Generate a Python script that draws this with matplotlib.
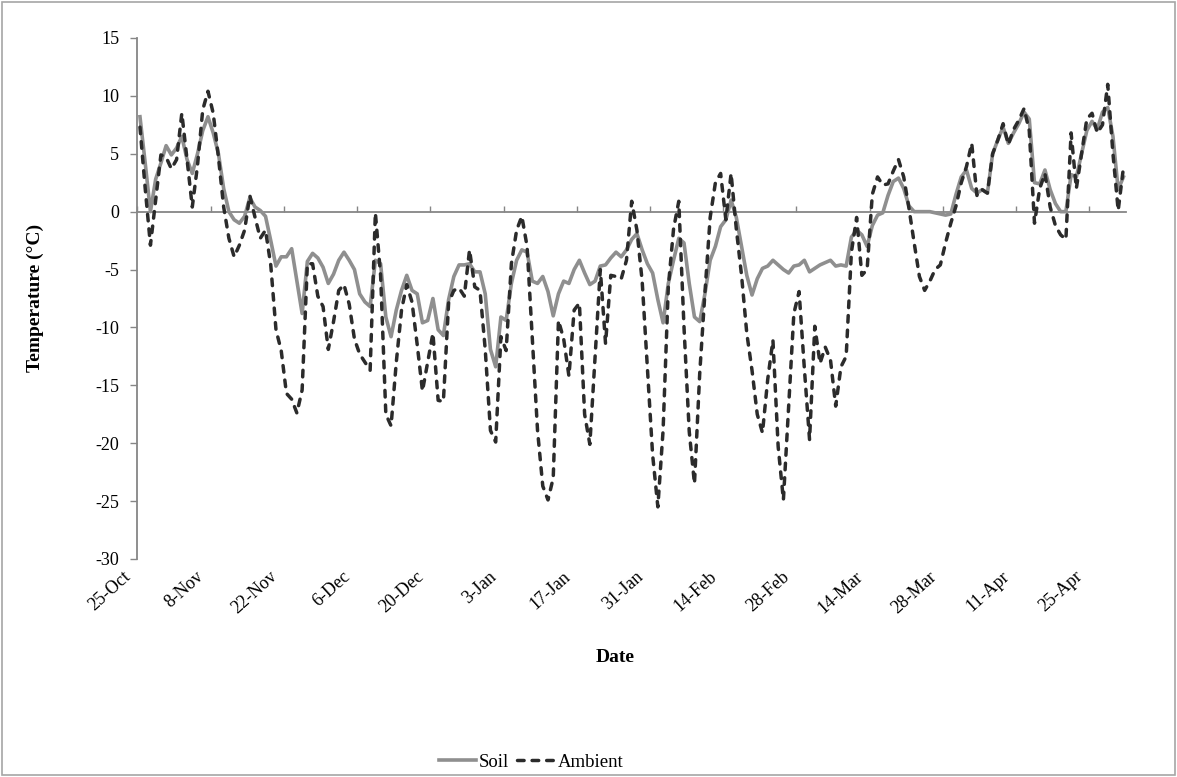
import numpy as np
import matplotlib
matplotlib.use("Agg")
import matplotlib.pyplot as plt
import matplotlib.transforms as mtransforms
from matplotlib.patches import Rectangle

plt.rcParams["font.family"] = ["Liberation Serif", "DejaVu Serif"]

# daily means, 25-Oct .. 1-May (189 days)
soil = [
    8.2, 4.2, 0.0, 2.8, 4.2, 5.7, 4.9, 5.5, 6.5, 4.5,
    3.3, 5.0, 7.0, 8.2, 6.8, 5.0, 2.0, 0.0, -0.7, -1.0,
    -0.4, 1.2, 0.4, 0.1, -0.4, -2.5, -4.7, -3.9, -3.9, -3.2,
    -6.0, -8.8, -4.3, -3.6, -4.0, -4.8, -6.2, -5.4, -4.2, -3.5,
    -4.2, -5.0, -7.1, -7.8, -8.2, -4.2, -4.5, -9.1, -10.8, -8.5,
    -6.8, -5.5, -6.8, -7.1, -9.6, -9.4, -7.5, -10.2, -10.7, -7.6,
    -5.6, -4.6, -4.6, -4.5, -5.2, -5.2, -7.1, -11.9, -13.4, -9.1,
    -9.4, -6.2, -4.2, -3.3, -3.5, -6.0, -6.2, -5.6, -6.9, -9.0,
    -7.1, -6.0, -6.2, -5.0, -4.2, -5.3, -6.3, -6.0, -4.7, -4.6,
    -4.0, -3.5, -3.9, -3.3, -2.4, -1.9, -3.3, -4.5, -5.3, -7.6,
    -9.6, -6.2, -4.2, -2.3, -2.7, -6.2, -9.1, -9.5, -7.1, -4.2,
    -3.0, -1.3, -0.7, 1.0, -0.5, -3.0, -5.5, -7.2, -5.8, -4.9,
    -4.7, -4.2, -4.6, -5.0, -5.3, -4.7, -4.6, -4.2, -5.2, -4.9,
    -4.6, -4.4, -4.2, -4.7, -4.6, -4.7, -2.2, -1.6, -2.0, -3.0,
    -1.2, -0.3, -0.1, 1.4, 2.6, 2.9, 2.0, 0.5, 0.0, 0.0,
    0.0, 0.0, -0.1, -0.2, -0.3, -0.2, 1.5, 3.0, 3.6, 2.0,
    1.6, 1.9, 1.6, 5.0, 6.2, 7.3, 5.9, 6.8, 7.6, 8.6,
    8.0, 2.5, 2.4, 3.6, 1.9, 0.7, 0.0, 0.0, 3.2, 3.0,
    5.0, 7.0, 7.8, 7.1, 8.6, 9.0, 6.5, 1.9, 3.0,
]

ambient = [
    7.3, 2.0, -2.9, 1.0, 4.9, 4.7, 3.7, 4.5, 8.5, 4.5,
    0.4, 4.0, 8.8, 10.4, 8.5, 4.7, 0.4, -2.3, -3.9, -2.9,
    -1.6, 1.4, -0.5, -2.3, -1.6, -4.6, -10.2, -12.0, -15.7, -16.2,
    -17.4, -15.4, -4.5, -4.5, -7.3, -8.2, -11.9, -9.5, -6.8, -6.3,
    -8.0, -11.0, -12.3, -13.0, -13.7, -0.1, -5.5, -17.5, -18.5, -13.0,
    -8.5, -6.3, -7.8, -11.5, -15.5, -13.0, -10.5, -16.3, -16.4, -7.9,
    -6.8, -6.6, -7.3, -3.3, -6.5, -6.8, -11.9, -18.9, -19.9, -10.8,
    -12.0, -4.5, -1.6, -0.4, -3.0, -11.0, -18.9, -23.7, -24.9, -23.0,
    -9.4, -11.0, -14.2, -8.5, -7.9, -17.5, -20.1, -12.5, -5.0, -11.4,
    -5.5, -5.6, -5.8, -4.2, 0.9, -1.6, -6.0, -13.5, -21.0, -25.5,
    -18.9, -6.5, -1.5, 0.9, -10.0, -19.0, -23.5, -14.0, -7.0, -0.5,
    2.5, 3.3, -0.7, 3.3, -1.5, -5.5, -10.5, -13.7, -17.5, -19.1,
    -14.5, -11.1, -20.3, -24.9, -16.8, -8.8, -6.9, -13.5, -19.7, -9.9,
    -13.1, -11.7, -12.8, -16.8, -13.4, -12.5, -3.5, -0.5, -5.5, -5.0,
    1.5, 3.0, 2.3, 2.4, 3.5, 4.5, 3.0, 0.3, -2.7, -5.6,
    -6.8, -6.0, -5.0, -4.6, -2.7, -1.0, 0.5, 2.5, 3.9, 5.9,
    1.4, 1.9, 1.6, 5.0, 6.2, 7.6, 5.8, 7.1, 7.9, 8.9,
    7.0, -1.0, 2.0, 3.3, 0.4, -1.2, -2.0, -2.4, 6.8, 2.0,
    5.0, 8.0, 8.5, 6.8, 7.5, 11.0, 5.0, 0.1, 3.8,
]

date_labels = ["25-Oct", "8-Nov", "22-Nov", "6-Dec", "20-Dec", "3-Jan", "17-Jan",
               "31-Jan", "14-Feb", "28-Feb", "14-Mar", "28-Mar", "11-Apr", "25-Apr"]
y_ticks = [-30, -25, -20, -15, -10, -5, 0, 5, 10, 15]

n_days = len(soil)
days = np.arange(n_days) + 0.5          # points sit in the middle of each day
tick_pos = np.arange(len(date_labels)) * 14

AXIS_GREY = "#868686"

fig = plt.figure(figsize=(11.77, 7.77), dpi=100)
ax = fig.add_axes([0.1167, 0.2806, 0.8400, 0.6705])

ax.plot(days, soil, color="#8f8f8f", lw=2.6, label="Soil", zorder=3)
ax.plot(days, ambient, color="#2b2b2b", lw=2.5, linestyle=(0, (1.9, 2.3)),
        dash_capstyle="round", label="Ambient", zorder=4)

ax.set_xlim(0, n_days)
ax.set_ylim(-30, 15)
ax.set_yticks(y_ticks)
ax.set_yticklabels([str(v) for v in y_ticks], fontsize=13)
ax.tick_params(axis="y", direction="out", length=5, width=1, color=AXIS_GREY, pad=8)

# horizontal axis crossing at zero, ticks on it, labels down at the bottom
for side in ["top", "right"]:
    ax.spines[side].set_visible(False)
ax.spines["left"].set_color(AXIS_GREY)
ax.spines["left"].set_linewidth(1.3)
ax.spines["bottom"].set_position(("data", 0))
ax.spines["bottom"].set_color(AXIS_GREY)
ax.spines["bottom"].set_linewidth(1.3)
ax.set_xticks(tick_pos)
ax.tick_params(axis="x", direction="in", length=4, width=1, color=AXIS_GREY,
               labelbottom=False)

sec = ax.secondary_xaxis("bottom")
sec.spines["bottom"].set_visible(False)
sec.set_xticks(tick_pos)
sec.set_xticklabels(date_labels, rotation=42, ha="right", va="center",
                    rotation_mode="anchor", fontsize=13)
sec.tick_params(axis="x", length=0, pad=11)
shift = mtransforms.ScaledTranslation(-9 / 100, 0, fig.dpi_scale_trans)
for lab in sec.get_xticklabels():
    lab.set_transform(lab.get_transform() + shift)

fig.text(615 / 1177, 1 - 657 / 777, "Date", ha="center", va="center",
         fontsize=14, fontweight="bold")
fig.text(35 / 1177, 1 - 298 / 777, "Temperature (°C)", ha="center", va="center",
         rotation=90, fontsize=14, fontweight="bold")

fig.legend(loc="center", bbox_to_anchor=(531 / 1177, 1 - 762 / 777), ncol=2,
           frameon=False, fontsize=13.5, handlelength=2.0, columnspacing=0.4,
           handletextpad=0.15)

fig.patches.append(Rectangle((0.002, 0.002), 0.996, 0.996, transform=fig.transFigure,
                             fill=False, edgecolor="#a6a6a6", lw=1.2))

fig.savefig("out.png", dpi=100)
